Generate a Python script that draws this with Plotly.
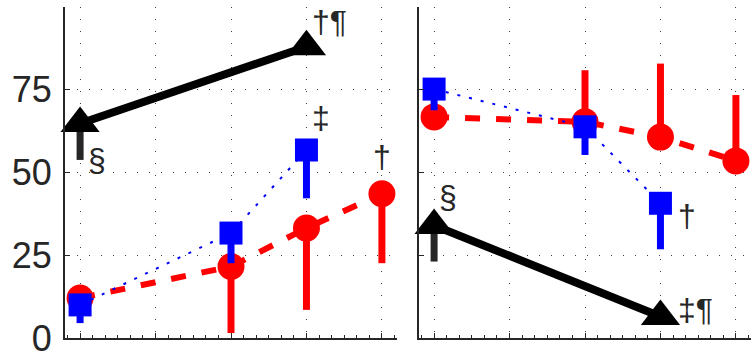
import plotly.graph_objects as go

# x positions of the groups
x_red = [1, 3, 4, 5]
x_blue = [1, 3, 4]
x_black = [1, 4]

# left panel
red_left = [12.1, 21.6, 33.2, 43.6]
red_left_down = [0, 20.1, 24.7, 21.0]
blue_left = [10.0, 31.7, 56.8]
blue_left_down = [5.5, 9.1, 14.6]
black_left = [64.8, 88.0]
black_left_down = [11.0, 0]

# right panel
red_right = [66.8, 65.3, 60.7, 53.5]
red_right_up = [0, 15.6, 22.2, 19.9]
blue_right = [75.2, 63.8, 40.7]
blue_right_down = [6.4, 8.5, 13.9]
black_right = [34.0, 6.5]
black_right_down = [10.9, 0]

y_ticks = [0, 25, 50, 75]

INK = '#262626'
RED = '#ff0000'
BLUE = '#0000ff'


def err(down=None, up=None, color=INK):
    n = len(down if down is not None else up)
    return dict(type='data', symmetric=False,
                array=up if up is not None else [0] * n,
                arrayminus=down if down is not None else [0] * n,
                color=color, thickness=7, width=0)


fig = go.Figure()

for xa, ya, blk, blk_e, red, red_e, blu, blu_e in [
    ('x', 'y', black_left, err(down=black_left_down), red_left, err(down=red_left_down, color=RED),
     blue_left, err(down=blue_left_down, color=BLUE)),
    ('x2', 'y2', black_right, err(down=black_right_down), red_right, err(up=red_right_up, color=RED),
     blue_right, err(down=blue_right_down, color=BLUE)),
]:
    fig.add_trace(go.Scatter(
        x=x_black, y=blk, xaxis=xa, yaxis=ya, mode='lines+markers',
        line=dict(color='black', width=8),
        marker=dict(symbol='triangle-up', size=34, color='black', line=dict(width=0)),
        error_y=blk_e, showlegend=False, cliponaxis=False,
    ))
    fig.add_trace(go.Scatter(
        x=x_red, y=red, xaxis=xa, yaxis=ya, mode='lines+markers',
        line=dict(color=RED, width=6, dash='15px,16px'),
        marker=dict(symbol='circle', size=27, color=RED, line=dict(width=0)),
        error_y=red_e, showlegend=False, cliponaxis=False,
    ))
    fig.add_trace(go.Scatter(
        x=x_blue, y=blu, xaxis=xa, yaxis=ya, mode='lines+markers',
        line=dict(color=BLUE, width=2, dash='3px,9px'),
        marker=dict(symbol='square', size=23, color=BLUE, line=dict(width=0)),
        error_y=blu_e, showlegend=False, cliponaxis=False,
    ))

# significance marks, placed next to their points
notes = [
    ('x', 'y', x_black[0], black_left[0] - black_left_down[0], '§', 17, 0),
    ('x', 'y', x_black[1], black_left[1], '†¶', 23, 25),
    ('x', 'y', x_blue[2], blue_left[2], '‡', 15, 32),
    ('x', 'y', x_red[3], red_left[3], '†', 0, 37),
    ('x2', 'y2', x_black[0], black_right[0], '§', 14, 28),
    ('x2', 'y2', x_blue[2], blue_right[2], '†', 27, -13),
    ('x2', 'y2', x_black[1], black_right[1], '‡¶', 35, 6),
]
for xa, ya, x, y, txt, dx, dy in notes:
    fig.add_annotation(x=x, y=y, xref=xa, yref=ya, text=txt, showarrow=False,
                       xshift=dx, yshift=dy,
                       font=dict(family='Liberation Sans', size=32, color=INK))

grid = dict(showgrid=True, gridcolor='#404040', gridwidth=1, griddash='1px,11px')

xcommon = dict(range=[0.8, 5.2], tickvals=[1, 2, 3, 4, 5], showticklabels=False,
               ticks='inside', ticklen=5, tickcolor=INK,
               minor=dict(dtick=1 / 6, tick0=1, ticks='inside', ticklen=3, tickcolor=INK, showgrid=False),
               showline=True, linecolor=INK, linewidth=1.5, zeroline=False, automargin=False,
               **grid)
ycommon = dict(range=[0, 100], ticks='inside', ticklen=5, tickcolor=INK,
               showline=True, linecolor=INK, linewidth=2, zeroline=False, automargin=False,
               **grid)

fig.update_layout(
    width=756, height=361,
    margin=dict(l=0, r=0, t=7, b=23),
    paper_bgcolor='white', plot_bgcolor='white',
    xaxis=dict(xcommon, domain=[65 / 756, 397 / 756], anchor='y'),
    xaxis2=dict(xcommon, domain=[419 / 756, 751 / 756], anchor='y2'),
    yaxis=dict(ycommon, tickvals=y_ticks, anchor='x',
               tickfont=dict(family='Liberation Sans', size=36, color=INK),
               ticklabelstandoff=4),
    yaxis2=dict(ycommon, tickvals=y_ticks + [100], showticklabels=False, anchor='x2'),
)

fig.write_html("out.html", config={'displayModeBar': False},
               post_script="document.body.style.margin='0';")
